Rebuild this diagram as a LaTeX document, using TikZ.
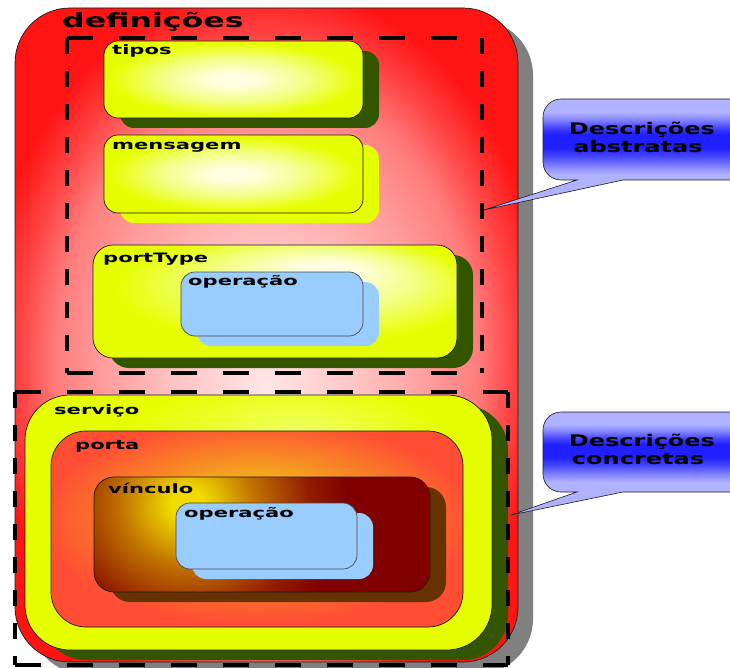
\documentclass[tikz,border=0pt]{standalone}
\usepackage{fontspec}
\usetikzlibrary{shadows}
\newfontfamily\boxfont[FakeStretch=1.62]{DejaVu Sans}
\newfontfamily\notefont[FakeStretch=1.5]{DejaVu Sans}

\definecolor{edgec}{HTML}{1A1A1A}
\definecolor{defred}{HTML}{FF1414}
\definecolor{defedge}{HTML}{FF4444}
\definecolor{defrose}{HTML}{FF7C7C}
\definecolor{defmid}{HTML}{FF9E9E}
\definecolor{deflight}{HTML}{FFC4C4}
\definecolor{defpink}{HTML}{FFE6E6}
\definecolor{greyshadow}{HTML}{808080}
\definecolor{ybox}{HTML}{E6FF00}
\definecolor{ylight}{HTML}{F3FF84}
\definecolor{ycore}{HTML}{FDFFE0}
\definecolor{ysoft}{HTML}{F2FF6A}
\definecolor{shgreen}{HTML}{335500}
\definecolor{opblue}{HTML}{99CCFF}
\definecolor{ocore}{HTML}{F4A41E}
\definecolor{oedge}{HTML}{FF4E34}
\definecolor{vyel}{HTML}{F2DC00}
\definecolor{vamber}{HTML}{C27400}
\definecolor{vrust}{HTML}{921E00}
\definecolor{vdark}{HTML}{800000}
\definecolor{vshadow}{HTML}{663300}
\definecolor{bpale}{HTML}{B0B2FF}
\definecolor{bsoft}{HTML}{8080FF}
\definecolor{bmid}{HTML}{4848FF}
\definecolor{bdark}{HTML}{2020FF}

% radial glows used for the box fills (25bp reaches the box border)
\pgfdeclareradialshading{defglow}{\pgfpoint{0bp}{-4bp}}{color(0bp)=(defpink); color(9bp)=(deflight); color(16bp)=(defmid); color(21bp)=(defrose); color(24.5bp)=(defedge); color(28bp)=(defred); color(40bp)=(defred)}
\pgfdeclareradialshading{yglow}{\pgfpoint{0bp}{0bp}}{color(0bp)=(ycore); color(4bp)=(ycore); color(14bp)=(ylight); color(24bp)=(ybox); color(40bp)=(ybox)}
\pgfdeclareradialshading{yglowtr}{\pgfpoint{8bp}{15bp}}{color(0bp)=(ycore); color(4bp)=(ycore); color(14bp)=(ylight); color(25bp)=(ybox); color(40bp)=(ybox)}
\pgfdeclareradialshading{ysvc}{\pgfpoint{5bp}{17bp}}{color(0bp)=(ysoft); color(20bp)=(ybox); color(40bp)=(ybox)}
\pgfdeclareradialshading{oglow}{\pgfpoint{0bp}{6bp}}{color(0bp)=(ocore); color(10bp)=(ocore); color(26bp)=(oedge); color(40bp)=(oedge)}
\pgfdeclareradialshading{vglow}{\pgfpoint{0bp}{0bp}}{color(0bp)=(vyel); color(1.7bp)=(vyel); color(6.8bp)=(vamber); color(12.5bp)=(vrust); color(16.5bp)=(vdark); color(30bp)=(vdark)}
% callout fill: light rim, deep blue band across the middle
\pgfdeclareverticalshading{bband}{100bp}{color(0bp)=(bpale); color(41bp)=(bpale); color(45bp)=(bsoft); color(49bp)=(bmid); color(53bp)=(bdark); color(59.2bp)=(bdark); color(62.4bp)=(bmid); color(65.5bp)=(bsoft); color(69bp)=(bpale); color(100bp)=(bpale)}

\begin{document}
\begin{tikzpicture}[x=1pt,y=-1pt,
  cbox/.style={draw=edgec, line width=0.7pt, rounded corners=#1, inner sep=0pt,
    outer sep=0pt, anchor=north west},
  shadowed/.style={general shadow={fill=#1, shadow xshift=16pt, shadow yshift=-10pt}},
  lbl/.style={inner sep=0pt, anchor=base west, font=\boxfont\bfseries\fontsize{13}{15}\selectfont},
  note/.style={inner sep=0pt, anchor=base, font=\notefont\bfseries\fontsize{16}{18}\selectfont},
  hdash/.style={line width=3.6pt, dash pattern=on 26pt off 26pt},
  vdash/.style={line width=4.6pt, dash pattern=on 16pt off 17pt},
  callout/.style={draw=edgec, line width=0.6pt, shade, shading=bband},
  opbox/.style={cbox=14pt, fill=opblue, draw=edgec!80,
    general shadow={fill=opblue, shadow xshift=16pt, shadow yshift=-10pt}}
]
\useasboundingbox (0,0) rectangle (730,668);

% outer container
\node[cbox=55pt, minimum width=503pt, minimum height=654pt, shade, shading=defglow,
  general shadow={fill=greyshadow, shadow xshift=15pt, shadow yshift=-12pt}] (defs) at (15,8) {};
\node[inner sep=0pt, anchor=base west, font=\boxfont\bfseries\fontsize{19.5}{22}\selectfont] (defslbl) at (62,28) {definições};

% abstract part
\node[cbox=14pt, minimum width=259pt, minimum height=77pt, shade, shading=yglow, shadowed=shgreen] (tipos) at (104,41) {};
\node[lbl] (tiposlbl) at (112,55) {tipos};

\node[cbox=14pt, minimum width=259pt, minimum height=78pt, shade, shading=yglow, shadowed=ybox] (msg) at (104,135) {};
\node[lbl] (msglbl) at (112,150) {mensagem};

\node[cbox=20pt, minimum width=364pt, minimum height=113pt, shade, shading=yglowtr, shadowed=shgreen] (ptype) at (93,245) {};
\node[lbl] (ptypelbl) at (103,262) {portType};

\node[opbox, minimum width=182pt, minimum height=64pt] (opa) at (181,272) {};
\node[lbl] (opalbl) at (188,285) {operação};

% concrete part
\node[cbox=45pt, minimum width=467pt, minimum height=255pt, shade, shading=ysvc, shadowed=shgreen] (svc) at (25,395) {};
\node[lbl] (svclbl) at (54,414) {serviço};

\node[cbox=35pt, minimum width=412pt, minimum height=196pt, shade, shading=oglow] (porta) at (51,431) {};
\node[lbl] (portalbl) at (75,449) {porta};

\node[cbox=20pt, minimum width=336pt, minimum height=115pt, fill=vdark, shadowed=vshadow,
  path picture={\shade[shading=vglow] ([shift={(71,28)}]path picture bounding box.north west) circle (220pt);}] (vinc) at (94,477) {};
\node[lbl] (vinclbl) at (108,493) {vínculo};

\node[opbox, minimum width=181pt, minimum height=66pt] (opb) at (176,503) {};
\node[lbl] (opblbl) at (184,517) {operação};

% dashed groupings
\draw[hdash] (67,38) -- (482,38);
\draw[hdash] (67,373) -- (482,373);
\draw[vdash] (67,38) -- (67,373);
\draw[vdash] (482,38) -- (482,373);

\draw[hdash] (15,392) -- (508,392);
\draw[hdash] (15,665) -- (508,665);
\draw[vdash] (15,392) -- (15,665);
\draw[vdash] (508,392) -- (508,665);

% callouts
\coordinate (abstip) at (484,210);
\coordinate (contip) at (511,515);
\path[callout] (577,180) -- (abstip) -- (623,180) [rounded corners=18pt] -- (760,180) -- (760,99) -- (543,99) -- (543,180) [sharp corners] -- cycle;
\node[note] (absA) at (642,135) {Descrições};
\node[note] (absB) at (638,153) {abstratas};

\path[callout] (577,492) -- (contip) -- (623,492) [rounded corners=18pt] -- (760,492) -- (760,412) -- (543,412) -- (543,492) [sharp corners] -- cycle;
\node[note] (conA) at (642,446) {Descrições};
\node[note] (conB) at (638,464) {concretas};
\end{tikzpicture}
\end{document}
